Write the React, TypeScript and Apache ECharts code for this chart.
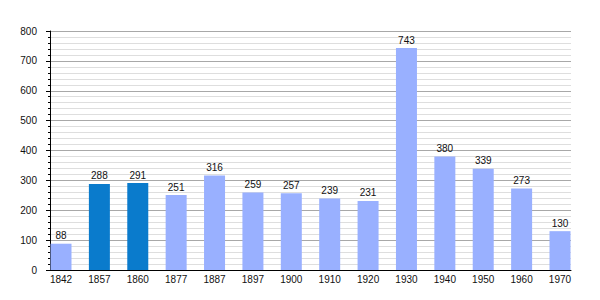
import React, { useEffect, useRef } from "react";
import * as echarts from "echarts";

const years = ["1842", "1857", "1860", "1877", "1887", "1897", "1900", "1910", "1920", "1930", "1940", "1950", "1960", "1970"];
const population = [88, 288, 291, 251, 316, 259, 257, 239, 231, 743, 380, 339, 273, 130];
const highlighted = ["1857", "1860"];
const yTicks = { min: 0, max: 800, interval: 100 };

const LIGHT = "#99b0ff";
const DARK = "#0a7bcc";

export default function App() {
  const ref = useRef<HTMLDivElement>(null);
  useEffect(() => {
    if (!ref.current) return;
    const chart = echarts.init(ref.current, null, { renderer: "svg" });
    const idx = years.map((_, i) => i);
    const pad = 0.2866;
    chart.setOption({
      animation: false,
      textStyle: { fontFamily: "Liberation Sans, Arial, sans-serif" },
      grid: { left: 50, right: 29, top: 31, bottom: 30 },
      xAxis: {
        type: "value",
        min: -pad,
        max: years.length - 1 + pad,
        axisLine: { show: true, onZero: false, lineStyle: { color: "#000", width: 1 } },
        axisTick: { show: false, customValues: idx },
        splitLine: { show: false },
        axisLabel: {
          customValues: idx,
          formatter: (v: number) => years[Math.round(v)] ?? "",
          color: "#111",
          fontSize: 10,
          margin: 4,
        },
      },
      yAxis: {
        type: "value",
        min: yTicks.min,
        max: yTicks.max,
        interval: yTicks.interval,
        axisLine: { show: true, onZero: false, lineStyle: { color: "#000", width: 1 } },
        axisTick: { show: true, length: 4, lineStyle: { color: "#000" } },
        minorTick: { show: true, splitNumber: 5, length: 2, lineStyle: { color: "#000" } },
        splitLine: { show: true, lineStyle: { color: "#a8a8a8", width: 1 } },
        minorSplitLine: { show: true, lineStyle: { color: "#dedede", width: 1 } },
        axisLabel: { color: "#111", fontSize: 10, margin: 13 },
      },
      series: [
        {
          type: "bar",
          barWidth: 21,
          data: population.map((v, i) => ({
            value: [i, v],
            itemStyle: { color: highlighted.includes(years[i]) ? DARK : LIGHT },
          })),
          label: {
            show: true,
            position: "top",
            distance: 3,
            color: "#111",
            fontSize: 10,
            formatter: (p: any) => String(p.value[1]),
          },
        },
      ],
    });
    return () => chart.dispose();
  }, []);
  return <div ref={ref} style={{ position: "absolute", left: 0, top: 0, width: 600, height: 300 }} />;
}
